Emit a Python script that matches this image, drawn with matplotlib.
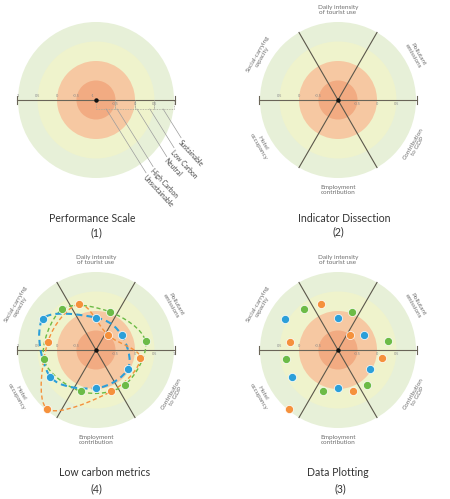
import numpy as np
import matplotlib.pyplot as plt
from matplotlib.patches import Circle, PathPatch
from matplotlib.path import Path

plt.rcParams['font.family'] = ['Lato', 'DejaVu Sans']

# ---- data ----
ring_values = [1.0, 0.5, 0.0, -0.5]          # outer edge of each ring
ring_colors = ['#e7f0d8', '#eff3cc', '#f6c8a2', '#f2ab82']

zone_labels = ['Sustainable', 'Low Carbon', 'Neutral', 'High Carbon', 'Unsustainable']
zone_start = [0.72, 0.38, 0.05, -0.46, -0.74]   # value where each leader starts
zone_len = [0.87, 1.17, 1.44, 1.74, 1.93]        # leader length (layout)

indicators = ['Daily intensity\nof tourist use', 'Pollutant\nemissions',
              'Contribution\nto GDP', 'Employment\ncontribution',
              'Hotel\noccupancy', 'Social-carrying\ncapacity']
indicator_angles = [90, 30, 330, 270, 210, 150]

green_vals = [0.04, 0.29, 0.16, 0.13, 0.36, 0.36]
blue_vals = [-0.17, -0.24, -0.05, -0.02, 0.36, 0.58]
orange_vals = [0.25, -0.51, 0.15, 0.13, 0.96, 0.25]
series = [(green_vals, -20, '#6cbb47', 1.0),
          (blue_vals, 0, '#2b9fd9', 1.5),
          (orange_vals, 20, '#f5913c', 1.0)]

# ---- layout ----
W, FH = 450, 499
UNIT = 39.0   # pixels per value unit
H = 120
fig = plt.figure(figsize=(W / 100, FH / 100), dpi=100)

AXIS_C = '#6a6558'
TXT_C = '#6e6e6e'


def to_xy(v, ang):
    r = np.asarray(v) + 1.0
    a = np.radians(ang)
    return r * np.cos(a), r * np.sin(a)


def make_ax(cx, cy):
    ax = fig.add_axes([(cx - H) / W, (FH - cy - H) / FH, 2 * H / W, 2 * H / FH])
    lim = H / UNIT
    ax.set_xlim(-lim, lim)
    ax.set_ylim(-lim, lim)
    ax.axis('off')
    return ax


def base(ax, left_ticks, right_ticks, spokes=True):
    for v, c in zip(ring_values, ring_colors):
        ax.add_patch(Circle((0, 0), v + 1, color=c, lw=0, zorder=0))
    ax.plot([-2.03, 2.03], [0, 0], color=AXIS_C, lw=0.8, zorder=2)
    for s in (-2.03, 2.03):
        ax.plot([s, s], [-0.1, 0.1], color=AXIS_C, lw=0.8, zorder=2)
    for v in left_ticks:
        ax.text(-(v + 1), 0.04, f'{v:g}', fontsize=2.8, color='#888888',
                ha='center', va='bottom', zorder=3)
    for v in right_ticks:
        ax.text(v + 1, -0.04, f'{v:g}', fontsize=2.8, color='#888888',
                ha='center', va='top', zorder=3)
    if spokes:
        for a in (60, 120):
            x, y = to_xy(1.0, a)
            ax.plot([-x, x], [-y, y], color='#5b574b', lw=0.8, zorder=2)
        for lab, a in zip(indicators, indicator_angles):
            x, y = to_xy(1.3, a)
            rot = a - 90 if 0 < a < 180 else a - 270
            ax.text(x, y, lab, fontsize=4.6, color=TXT_C, ha='center', va='center',
                    rotation=rot, rotation_mode='anchor', linespacing=1.1)
    ax.plot([0], [0], 'o', color='#111111', ms=2.2, zorder=5)


def title(ax, name, num, dy=3.05, dx=0.0):
    ax.text(dx, -dy, name, fontsize=7.6, color='#333333', ha='center', va='center')
    ax.text(0, -dy - 0.36, num, fontsize=7.6, color='#333333', ha='center', va='center')


def smooth_closed(xs, ys):
    pts = np.column_stack([xs, ys])
    n = len(pts)
    verts, codes = [pts[0]], [Path.MOVETO]
    for i in range(n):
        p0, p1, p2, p3 = pts[i - 1], pts[i], pts[(i + 1) % n], pts[(i + 2) % n]
        verts += [p1 + (p2 - p0) / 6, p2 - (p3 - p1) / 6, p2]
        codes += [Path.CURVE4] * 3
    return Path(verts, codes)


def scatter(ax, curves=False):
    for vals, off, col, lw in series:
        angs = [a + off for a in indicator_angles]
        x, y = to_xy(vals, angs)
        if curves:
            ax.add_patch(PathPatch(smooth_closed(x, y), fill=False, ec=col, lw=lw,
                                   ls=(0, (3, 2)), zorder=3))
        ax.scatter(x, y, s=34, color=col, edgecolor='white', linewidth=0.5, zorder=4)


# panel 1: performance scale
ax1 = make_ax(96, 100)
base(ax1, [1, 0.5, 0, -0.5], [-0.5, 0, 0.5], spokes=False)
ax1.text(-0.08, 0.05, '-1', fontsize=2.8, color='#888888', ha='center', va='bottom')
by = -0.23
segs = [(-1, -0.5), (-0.5, 0), (0, 0.5), (0.5, 1)]
for a, b in segs:
    ax1.plot([a + 1, a + 1, b + 1, b + 1], [0, by, by, 0], color='#a9a99a',
             lw=0.6, ls=(0, (1, 1)), zorder=2)
ang = np.radians(-58)
for lab, v, L in zip(zone_labels, zone_start, zone_len):
    x0 = v + 1
    x1, y1 = x0 + L * np.cos(ang), by + L * np.sin(ang)
    ax1.plot([x0, x1], [by, y1], color='#9c9c9c', lw=0.5, zorder=2)
    ax1.text(x1 + 0.02, y1 - 0.02, lab, fontsize=4.8, color='#444444', rotation=-47,
             rotation_mode='anchor', ha='left', va='top')
title(ax1, 'Performance Scale', '(1)', dx=-0.1)

# panel 2: indicator dissection
ax2 = make_ax(338, 100)
base(ax2, [0.5, 0, -0.5], [-0.5, 0, 0.5])
title(ax2, 'Indicator Dissection', '(2)', dy=3.03, dx=0.15)

# panel 4: low carbon metrics
ax4 = make_ax(96, 350)
base(ax4, [1, 0.5, 0, -0.5], [-0.5, 0, 0.5, 1])
scatter(ax4, curves=True)
title(ax4, 'Low carbon metrics', '(4)', dy=3.13, dx=0.23)
ax4.texts[-1].set_position((0, -3.13 - 0.43))

# panel 3: data plotting
ax3 = make_ax(338, 350)
base(ax3, [0.5, 0, -0.5], [-0.5, 0, 0.5])
scatter(ax3)
title(ax3, 'Data Plotting', '(3)', dy=3.13)
ax3.texts[-1].set_position((0.05, -3.13 - 0.43))

fig.savefig('out.png', dpi=100, facecolor='white')
